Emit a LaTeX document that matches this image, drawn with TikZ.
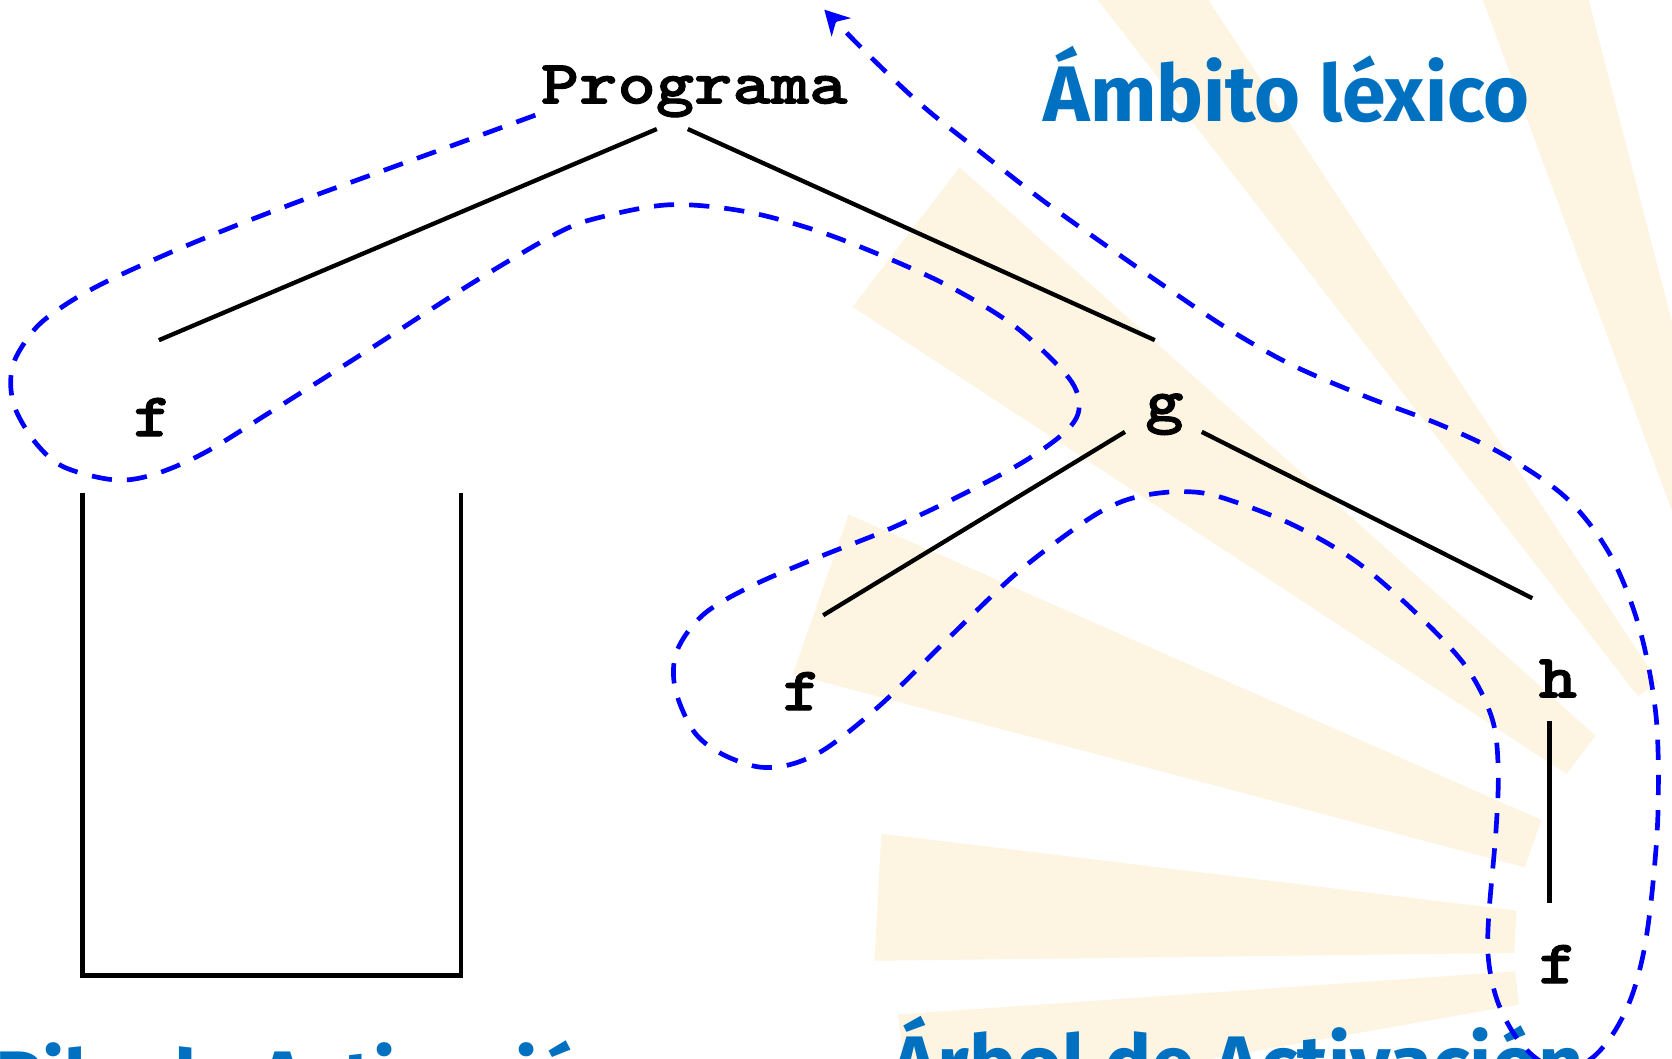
\documentclass[tikz,border=0pt]{standalone}
\usepackage{fontspec}
\setsansfont{Fira Sans}
\newfontfamily\codefont{lmmonolt10-bold.otf}[FakeStretch=1.18, FakeBold=1.6]
\usetikzlibrary{arrows.meta, calc}
\definecolor{lexblue}{HTML}{0070C0}
\definecolor{linkblue}{HTML}{0000FF}
\definecolor{raybeige}{HTML}{FDF4E2}

\begin{document}
\begin{tikzpicture}[x=0.01cm, y=-0.01cm,
  code/.style={font=\codefont\fontsize{16.5}{18}\selectfont, inner sep=0pt, anchor=base},
  heading/.style={font=\sffamily\bfseries\fontsize{21}{24}\selectfont,
    text=lexblue, inner sep=0pt, anchor=base west},
  branch/.style={line width=1.15pt},
  link/.style={draw=linkblue, line width=1.25pt, dash pattern=on 5.4pt off 4pt,
    -{Stealth[length=6.5pt, width=7pt, inset=2pt]}},
  ray/.style={fill=raybeige}]

% Canvas
\useasboundingbox (0,0) rectangle (1568,993);
\clip (0,0) rectangle (1568,993);
\fill[white] (0,0) rectangle (1568,993);

% --- Faint sun rays in the background ---
\coordinate (sun) at (1720,890);
\fill[ray] ($(sun)+(-190:300)$) -- ($(sun)+(-190:880)$) -- ($(sun)+(-184:880)$) -- ($(sun)+(-184:300)$) -- cycle;
\fill[ray] ($(sun)+(-180.7:300)$) -- ($(sun)+(-180.7:900)$) -- ($(sun)+(-173.1:900)$) -- ($(sun)+(-173.1:300)$) -- cycle;
\fill[ray] ($(sun)+(-165.2:300)$) -- ($(sun)+(-165.2:1010)$) -- ($(sun)+(-156.2:1010)$) -- ($(sun)+(-156.2:300)$) -- cycle;
\fill[ray] ($(sun)+(-146.8:300)$) -- ($(sun)+(-146.8:1100)$) -- ($(sun)+(-138.2:1100)$) -- ($(sun)+(-138.2:300)$) -- cycle;
\fill[ray] ($(sun)+(-127.8:300)$) -- ($(sun)+(-127.8:1300)$) -- ($(sun)+(-123.4:1300)$) -- ($(sun)+(-123.4:300)$) -- cycle;
\fill[ray] ($(sun)+(-110.3:300)$) -- ($(sun)+(-110.3:1300)$) -- ($(sun)+(-104.5:1300)$) -- ($(sun)+(-104.5:300)$) -- cycle;

% --- Activation tree ---
\node[code] (prog) at (651,97) {Programa};
\node[code] (f1) at (143,409) {f};
\node[code] (g) at (1092,395) {g};
\node[code] (f2) at (752,666) {f};
\node[code] (h) at (1461,654) {h};
\node[code] (f3) at (1461,922) {f};

\draw[branch] ([shift={(-35,24)}]prog.base) -- ([shift={(6,-90)}]f1.base);
\draw[branch] ([shift={(-6,24)}]prog.base) -- ([shift={(-9,-76)}]g.base);
\draw[branch] ([shift={(-37,10)}]g.base) -- ([shift={(20,-89)}]f2.base);
\draw[branch] ([shift={(35,10)}]g.base) -- ([shift={(-24,-93)}]h.base);
\draw[branch] ([shift={(-8,22)}]h.base) -- ([shift={(-8,-75)}]f3.base);

% --- Activation stack ---
\draw[branch, line width=1.2pt] (77.5,462) -- (77.5,915) -- (432.5,915) -- (432.5,462);

% --- Headings ---
\node[heading] (lexico) at (978,114) {Ámbito léxico};
\node[heading] (arbol) at (835,1024) {Árbol de Activación};
\node[heading] (pila) at (-5,1038) {Pila de Activación};

% --- Lexical scope trace ---
\coordinate (start) at ([shift={(-149,11)}]prog.base);
\coordinate (tip) at (773,9);
\draw[link] plot[smooth, tension=0.55] coordinates {
  (start) (420,138) (340,167) (288,186) (220,212) (157,238) (100,264)
  (64,284) (35,306) (15,335) (10,359) (15,385) (34,416) (60,438)
  (107,450) (144,445) (191,425) (251,388) (352,324) (442,266) (522,219)
  (562,204) (628,192) (697,198) (765,216) (830,241) (893,270) (953,307)
  (1002,354) (1012,382) (1000,404) (960,433) (898,466) (832,497) (769,522)
  (706,549) (660,576) (635,610) (633,645) (650,685) (675,706) (710,719)
  (741,717) (776,701) (828,659) (891,597) (954,537) (1016,490) (1048,472)
  (1076,464) (1110,461) (1144,466) (1210,491) (1271,526) (1326,573)
  (1374,624) (1399,673) (1405,720) (1403,778) (1396,861) (1396,901)
  (1404,938) (1420,970) (1440,992) (1465,1004) (1492,993) (1513,969)
  (1530,935) (1542,890) (1550,830) (1555,757) (1553,671) (1538,591)
  (1511,522) (1470,468) (1411,427) (1350,398) (1281,372) (1211,342)
  (1151,308) (1093,269) (1034,228) (978,188) (920,143) (866,100)
  (816,53) (tip)};

\end{tikzpicture}
\end{document}
